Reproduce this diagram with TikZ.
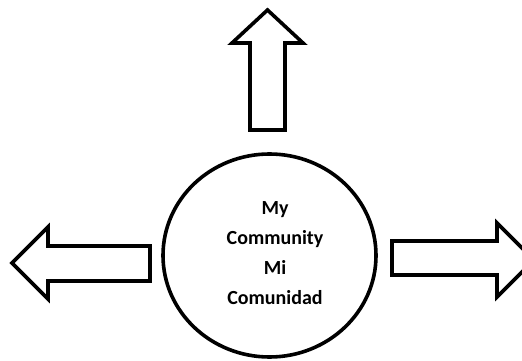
\documentclass[tikz,border=0pt]{standalone}
\usepackage{fontspec}
\setmainfont{Carlito}
\begin{document}
\begin{tikzpicture}[x=1pt,y=-1pt,
  outline/.style={draw=black,line width=3.6pt,fill=white,line join=miter},
  lbl/.style={font=\fontsize{20}{30}\selectfont\bfseries,align=center,inner sep=0pt}]
\useasboundingbox (0,0) rectangle (522,361);
% circle
\draw[outline] (269.5,255.5) ellipse [x radius=106.5, y radius=101.5];
\node[lbl] (txt) at (275,253) {My\\Community\\Mi\\Comunidad};
% up arrow
\draw[outline] (250,130) -- (250,43) -- (232,43) -- (267.5,10) -- (303,43) -- (285,43) -- (285,130) -- cycle;
% left arrow
\draw[outline] (150,246) -- (48,246) -- (48,227) -- (12,263) -- (48,299) -- (48,281) -- (150,281) -- cycle;
% right arrow
\draw[outline] (392,241) -- (497,241) -- (497,223) -- (534,260) -- (497,297) -- (497,275) -- (392,275) -- cycle;
\end{tikzpicture}
\end{document}
